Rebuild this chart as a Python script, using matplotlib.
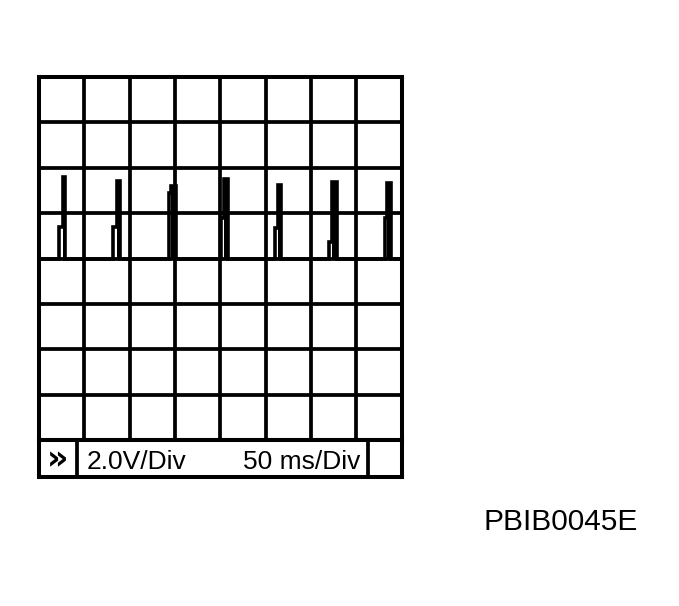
import matplotlib
matplotlib.use("Agg")
import matplotlib.pyplot as plt

plt.rcParams['font.family'] = ['Liberation Sans', 'DejaVu Sans']

# scope settings: 8 x 8 divisions
volts_per_div = 2.0
ms_per_div = 50
n_div = 8

# one entry per ignition pulse (time in ms, level in V above the base line)
rise_ms = [22.4, 81.1, 143.4, 200.7, 260.8, 319.8, 381.6]
shoulder_v = [1.38, 1.38, 2.88, 1.78, 1.34, 0.72, 1.78]
spike_ms = [27.0, 86.0, 146.1, 204.0, 264.1, 323.1, 384.3]
fall_ms = [28.7, 88.8, 151.1, 207.9, 267.4, 328.6, 388.7]
peak_v = [3.58, 3.41, 3.19, 3.50, 3.23, 3.36, 3.32]

volt_label = "2.0V/Div"
time_label = "50 ms/Div"
figure_code = "PBIB0045E"

W, H = 679, 606
fig = plt.figure(figsize=(W / 100, H / 100), dpi=100)

# grid area in pixels
gx0, gx1, gy0, gy1 = 39, 401.7, 77, 440
bar_bottom = 477
ax = fig.add_axes([gx0 / W, 1 - gy1 / H, (gx1 - gx0) / W, (gy1 - gy0) / H])
t_max = n_div * ms_per_div
v_half = n_div / 2 * volts_per_div
ax.set_xlim(0, t_max)
ax.set_ylim(-v_half, v_half)
ax.set_xticks([ms_per_div * i for i in range(1, n_div)])
ax.set_yticks([-v_half + volts_per_div * i for i in range(1, n_div)])
ax.tick_params(length=0, labelbottom=False, labelleft=False)
ax.grid(True, color="black", lw=2.7)
for s in ax.spines.values():
    s.set_linewidth(2.9)

# build the trace from the pulse list
xs, ys = [0], [0]
for r, sh, sp, f, pk in zip(rise_ms, shoulder_v, spike_ms, fall_ms, peak_v):
    xs += [r, r, sp, sp, f, f]
    ys += [0, sh, sh, pk, pk, 0]
    ax.fill_between([sp, f], 0, pk, color="black", lw=0)
xs.append(t_max)
ys.append(0)
ax.plot(xs, ys, color="black", lw=2.6, solid_joinstyle="miter")

# status bar under the grid
bar = fig.add_axes([gx0 / W, 1 - bar_bottom / H, (gx1 - gx0) / W, (bar_bottom - gy1) / H])
bar.set_xlim(0, 1)
bar.set_ylim(0, 1)
bar.set_xticks([])
bar.set_yticks([])
for s in bar.spines.values():
    s.set_linewidth(2.9)
bar.axvline(0.104, color="black", lw=2.7)
bar.axvline(0.906, color="black", lw=2.7)
bar.text(0.052, 0.47, "»", ha="center", va="center", fontsize=24,
         fontweight="bold", family="DejaVu Sans")
bar.text(0.132, 0.22, volt_label, ha="left", va="baseline", fontsize=19)
bar.text(0.885, 0.22, time_label, ha="right", va="baseline", fontsize=19)

fig.text(483 / W, 1 - 530 / H, figure_code, ha="left", va="baseline", fontsize=21.5)

fig.savefig("out.png", dpi=100)
